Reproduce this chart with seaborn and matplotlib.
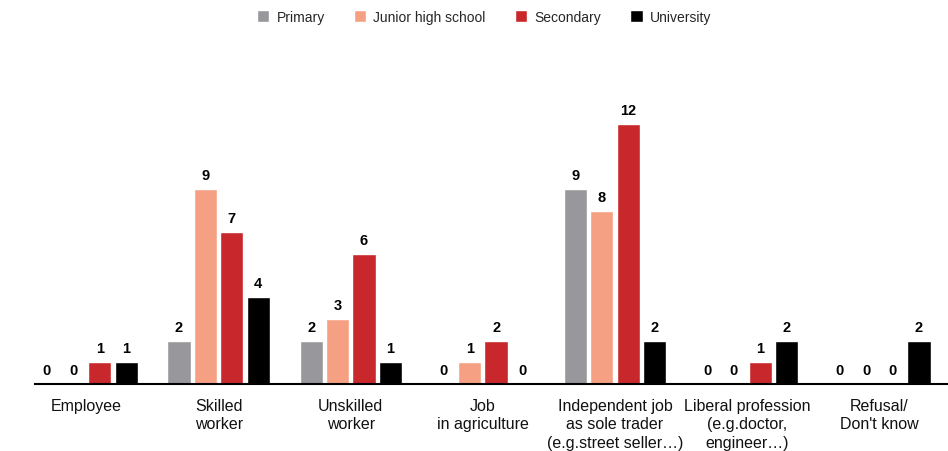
import numpy as np
import pandas as pd
import matplotlib
matplotlib.use("Agg")
import matplotlib.pyplot as plt
import seaborn as sns

categories = ["Employee", "Skilled\nworker", "Unskilled\nworker", "Job\nin agriculture",
              "Independent job\nas sole trader\n(e.g.street seller…)",
              "Liberal profession\n(e.g.doctor,\nengineer…)", "Refusal/\nDon't know"]
series = ["Primary", "Junior high school", "Secondary", "University"]
primary = [0, 2, 2, 0, 9, 0, 0]
junior = [0, 9, 3, 1, 8, 0, 0]
secondary = [1, 7, 6, 2, 12, 1, 0]
university = [1, 4, 1, 0, 2, 2, 2]
colors = ["#98989c", "#f5a083", "#c8282b", "#000000"]

rows = []
for s, vals in zip(series, [primary, junior, secondary, university]):
    for c, v in zip(categories, vals):
        rows.append({"cat": c, "edu": s, "n": v})
data = pd.DataFrame(rows)

sns.set_theme(style="white")
plt.rcParams['font.family'] = ['Liberation Sans', 'DejaVu Sans']

fig = plt.figure(figsize=(9.48, 4.52), dpi=100)
ax = fig.add_axes([35 / 948, 67 / 452, 1 - 35 / 948, 325 / 452])

sns.barplot(data=data, x="cat", y="n", hue="edu", order=categories, hue_order=series,
            palette=colors, gap=0.12, saturation=1, ax=ax, legend=True)

for cont in ax.containers:
    ax.bar_label(cont, padding=5, fontsize=10.5, fontweight="bold", color="black")

ax.set_xlim(-0.39, 6.52)
ax.set_ylim(0, 15)
ax.set_xlabel("")
ax.set_ylabel("")
ax.set_yticks([])
ax.tick_params(axis="x", length=0, labelsize=11.5, pad=10, colors="#111111")
for lbl in ax.get_xticklabels():
    lbl.set_linespacing(1.3)
for side in ["top", "right", "left"]:
    ax.spines[side].set_visible(False)
ax.spines["bottom"].set_color("black")
ax.spines["bottom"].set_linewidth(1.5)

handles, labels = ax.get_legend_handles_labels()
ax.legend(handles, labels, loc="center", bbox_to_anchor=(484 / 948, 1 - 18 / 452),
          bbox_transform=fig.transFigure, ncol=4, frameon=False, fontsize=10,
          handlelength=0.9, handleheight=0.9, handletextpad=0.5, columnspacing=2.1)

fig.savefig("out.png", dpi=100)
